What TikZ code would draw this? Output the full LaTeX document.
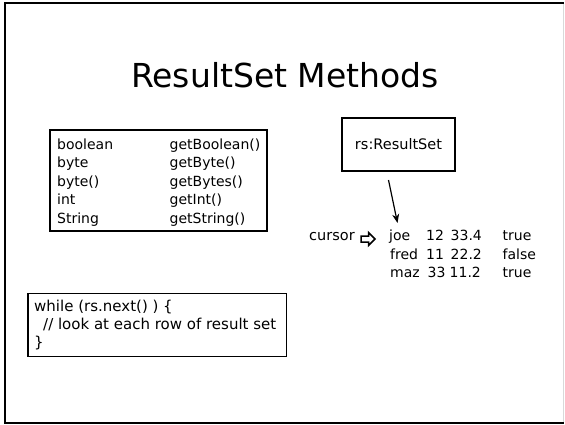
\documentclass[tikz,border=0pt]{standalone}
\usepackage{fontspec}
\usetikzlibrary{arrows.meta}
\setmainfont{DejaVu Sans}
\begin{document}
\begin{tikzpicture}[x=1pt,y=-1pt,
  cell/.style={anchor=base west,inner sep=0pt,font=\fontsize{14}{16}\selectfont},
  codeline/.style={anchor=base west,inner sep=0pt,font=\fontsize{15}{17}\selectfont},
  box/.style={draw=black,line width=1.6pt},
  pointer/.style={line width=1.2pt,-{Stealth[length=9pt,width=7pt]}}]
\useasboundingbox (0,0) rectangle (565,424);
\fill[white] (0,0) rectangle (565,424);

% slide frame
\draw[black!15,line width=1pt] (563.5,3) -- (563.5,423);
\draw[black,line width=2pt] (563.5,422.5) -- (5,422.5) -- (5,3) -- (563.5,3);

% title
\node[anchor=base,inner sep=0pt,font=\fontsize{33}{38}\selectfont] (title) at (285,87) {ResultSet Methods};

% type / getter table
\draw[box] (50,130) rectangle (267,231);
\foreach \t/\g [count=\i from 0] in {boolean/getBoolean(),byte/getByte(),byte()/getBytes(),int/getInt(),String/getString()}{
  \node[cell] (type\i) at (57,{149+18.6*\i}) {\t};
  \node[cell] (getter\i) at (169.5,{149+18.6*\i}) {\g};
}

% result set object
\node[box,minimum width=113pt,minimum height=53pt,inner sep=0pt,font=\fontsize{14.5}{16}\selectfont] (rs) at (398.5,144.5) {rs:ResultSet};
\coordinate (rsout) at (388.5,180);
\coordinate (rowtop) at (397.5,223);
\draw[pointer] (rsout) -- (rowtop);

% cursor marker
\node[cell,font=\fontsize{14.5}{16}\selectfont] (cursor) at (309,240.5) {cursor};
\draw[black,line width=1.5pt,line join=miter]
  (361,236) -- (368.5,236) -- (368.5,232.5) -- (375,239) -- (368.5,245.5) -- (368.5,242) -- (361,242) -- cycle;

% result rows
\node[cell] (r1a) at (389,240) {joe};
\node[cell] (r1b) at (426,240) {12};
\node[cell] (r1c) at (450.5,240) {33.4};
\node[cell] (r1d) at (502.5,240) {true};
\node[cell] (r2a) at (390,259) {fred};
\node[cell] (r2b) at (426,259) {11};
\node[cell] (r2c) at (450.5,259) {22.2};
\node[cell] (r2d) at (502.5,259) {false};
\node[cell] (r3a) at (390,277.5) {maz};
\node[cell] (r3b) at (427.5,277.5) {33};
\node[cell] (r3c) at (449.5,277.5) {11.2};
\node[cell] (r3d) at (502.5,277.5) {true};

% iteration loop
\draw[box] (28,293.5) rectangle (286.5,356.5);
\node[codeline] (loop1) at (34,311.5) {while (rs.next() ) \{};
\node[codeline] (loop2) at (43,329) {// look at each row of result set};
\node[codeline] (loop3) at (34,347) {\}};
\end{tikzpicture}
\end{document}
